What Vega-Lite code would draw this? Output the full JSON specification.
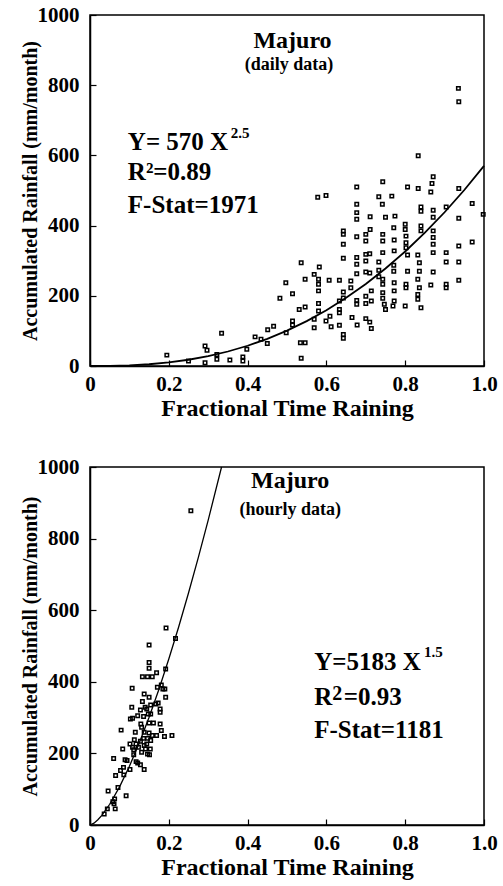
{
  "$schema": "https://vega.github.io/schema/vega-lite/v6.json",
  "autosize": {"type": "pad"},
  "padding": {"left": 19, "top": 3, "right": 0, "bottom": 0},
  "background": "white",
  "config": {
    "font": "Liberation Serif",
    "view": {"stroke": "black", "strokeWidth": 1.5},
    "axis": {
      "grid": false,
      "domainColor": "black",
      "domainWidth": 1.5,
      "tickColor": "black",
      "tickSize": -6,
      "tickWidth": 1.2,
      "labelFont": "Liberation Serif",
      "labelFontWeight": "bold",
      "labelFontSize": 21,
      "labelColor": "black",
      "labelFlush": false,
      "labelOverlap": false,
      "titleFont": "Liberation Serif",
      "titleFontWeight": "bold",
      "titleColor": "black"
    },
    "axisX": {"labelPadding": 13, "titleFontSize": 24, "titlePadding": 2},
    "axisY": {"labelPadding": 17, "titleFontSize": 20, "titlePadding": -3}
  },
  "datasets": {
    "daily": [
      {"frac":0.195,"rain":31},{"frac":0.250,"rain":14},{"frac":0.292,"rain":57},{"frac":0.297,"rain":45},{"frac":0.292,"rain":9},
      {"frac":0.322,"rain":33},{"frac":0.322,"rain":19},{"frac":0.334,"rain":93},{"frac":0.355,"rain":17},{"frac":0.388,"rain":26},
      {"frac":0.388,"rain":14},{"frac":0.398,"rain":48},{"frac":0.419,"rain":83},{"frac":0.434,"rain":76},{"frac":0.451,"rain":103},
      {"frac":0.450,"rain":64},{"frac":0.466,"rain":113},{"frac":0.482,"rain":193},
      {"frac":0.935,"rain":791},{"frac":0.936,"rain":753},{"frac":0.833,"rain":599},{"frac":0.871,"rain":539},{"frac":0.868,"rain":520},
      {"frac":0.743,"rain":525},{"frac":0.677,"rain":510},{"frac":0.806,"rain":510},{"frac":0.833,"rain":506},{"frac":0.865,"rain":496},
      {"frac":0.936,"rain":506},{"frac":0.578,"rain":481},{"frac":0.599,"rain":486},{"frac":0.733,"rain":482},{"frac":0.766,"rain":484},
      {"frac":0.677,"rain":461},{"frac":0.742,"rain":461},{"frac":0.677,"rain":437},{"frac":0.677,"rain":418},{"frac":0.711,"rain":425},
      {"frac":0.750,"rain":424},{"frac":0.774,"rain":427},{"frac":0.840,"rain":453},{"frac":0.840,"rain":441},{"frac":0.871,"rain":444},
      {"frac":0.904,"rain":453},{"frac":0.871,"rain":424},{"frac":0.970,"rain":463},{"frac":0.936,"rain":421},{"frac":0.998,"rain":432},
      {"frac":0.800,"rain":404},{"frac":0.800,"rain":389},{"frac":0.840,"rain":399},{"frac":0.840,"rain":385},{"frac":0.871,"rain":385},
      {"frac":0.871,"rain":366},{"frac":0.871,"rain":347},{"frac":0.871,"rain":323},{"frac":0.802,"rain":370},{"frac":0.802,"rain":351},
      {"frac":0.802,"rain":337},{"frac":0.771,"rain":394},{"frac":0.743,"rain":375},{"frac":0.743,"rain":356},{"frac":0.772,"rain":359},
      {"frac":0.772,"rain":328},{"frac":0.743,"rain":323},{"frac":0.711,"rain":389},{"frac":0.700,"rain":375},{"frac":0.700,"rain":356},
      {"frac":0.677,"rain":368},{"frac":0.643,"rain":385},{"frac":0.643,"rain":375},{"frac":0.643,"rain":347},{"frac":0.643,"rain":307},
      {"frac":0.710,"rain":320},{"frac":0.700,"rain":318},{"frac":0.677,"rain":309},{"frac":0.700,"rain":299},{"frac":0.677,"rain":290},
      {"frac":0.700,"rain":268},{"frac":0.710,"rain":265},{"frac":0.677,"rain":263},{"frac":0.733,"rain":296},{"frac":0.733,"rain":273},
      {"frac":0.733,"rain":254},{"frac":0.743,"rain":247},{"frac":0.743,"rain":233},{"frac":0.771,"rain":287},{"frac":0.771,"rain":270},
      {"frac":0.772,"rain":237},{"frac":0.772,"rain":214},{"frac":0.806,"rain":316},{"frac":0.806,"rain":270},{"frac":0.802,"rain":233},
      {"frac":0.802,"rain":223},{"frac":0.832,"rain":316},{"frac":0.836,"rain":294},{"frac":0.836,"rain":270},{"frac":0.832,"rain":247},
      {"frac":0.836,"rain":223},{"frac":0.832,"rain":204},{"frac":0.832,"rain":190},{"frac":0.840,"rain":166},{"frac":0.865,"rain":231},
      {"frac":0.871,"rain":268},{"frac":0.904,"rain":323},{"frac":0.904,"rain":296},{"frac":0.904,"rain":233},{"frac":0.904,"rain":223},
      {"frac":0.936,"rain":342},{"frac":0.936,"rain":296},{"frac":0.936,"rain":244},{"frac":0.970,"rain":353},{"frac":0.800,"rain":171},
      {"frac":0.772,"rain":185},{"frac":0.743,"rain":209},{"frac":0.743,"rain":193},{"frac":0.747,"rain":176},{"frac":0.750,"rain":161},
      {"frac":0.769,"rain":171},{"frac":0.714,"rain":214},{"frac":0.700,"rain":199},{"frac":0.714,"rain":185},{"frac":0.700,"rain":178},
      {"frac":0.677,"rain":187},{"frac":0.677,"rain":176},{"frac":0.662,"rain":242},{"frac":0.662,"rain":223},{"frac":0.665,"rain":138},
      {"frac":0.700,"rain":135},{"frac":0.714,"rain":107},{"frac":0.678,"rain":117},{"frac":0.710,"rain":125},{"frac":0.633,"rain":244},
      {"frac":0.607,"rain":244},{"frac":0.633,"rain":185},{"frac":0.633,"rain":161},{"frac":0.633,"rain":152},{"frac":0.643,"rain":211},
      {"frac":0.643,"rain":194},{"frac":0.643,"rain":90},{"frac":0.643,"rain":79},{"frac":0.609,"rain":142},{"frac":0.612,"rain":112},
      {"frac":0.633,"rain":116},{"frac":0.599,"rain":128},{"frac":0.582,"rain":282},{"frac":0.580,"rain":247},{"frac":0.580,"rain":233},
      {"frac":0.580,"rain":214},{"frac":0.580,"rain":178},{"frac":0.580,"rain":157},{"frac":0.569,"rain":261},{"frac":0.569,"rain":133},
      {"frac":0.569,"rain":109},{"frac":0.546,"rain":247},{"frac":0.536,"rain":294},{"frac":0.531,"rain":161},{"frac":0.546,"rain":168},
      {"frac":0.514,"rain":128},{"frac":0.514,"rain":117},{"frac":0.514,"rain":206},{"frac":0.497,"rain":237},{"frac":0.534,"rain":66},
      {"frac":0.546,"rain":66},{"frac":0.536,"rain":22},{"frac":0.498,"rain":95}
    ],
    "dailyFit": [
      {"frac":0,"rain":0},{"frac":0.05,"rain":0.3},{"frac":0.1,"rain":1.8},{"frac":0.15,"rain":5.0},{"frac":0.2,"rain":10.2},
      {"frac":0.25,"rain":17.8},{"frac":0.3,"rain":28.1},{"frac":0.35,"rain":41.3},{"frac":0.4,"rain":57.7},{"frac":0.45,"rain":77.4},
      {"frac":0.5,"rain":100.8},{"frac":0.55,"rain":127.9},{"frac":0.6,"rain":159},{"frac":0.65,"rain":194.2},{"frac":0.7,"rain":233.7},
      {"frac":0.75,"rain":277.7},{"frac":0.8,"rain":326.3},{"frac":0.85,"rain":379.7},{"frac":0.9,"rain":438},{"frac":0.95,"rain":501.4},
      {"frac":1.0,"rain":570}
    ],
    "hourly": [
      {"frac":0.193,"rain":550},{"frac":0.217,"rain":521},{"frac":0.150,"rain":503},{"frac":0.150,"rain":454},{"frac":0.150,"rain":438},
      {"frac":0.133,"rain":414},{"frac":0.146,"rain":414},{"frac":0.158,"rain":414},{"frac":0.169,"rain":425},{"frac":0.192,"rain":436},
      {"frac":0.107,"rain":382},{"frac":0.171,"rain":385},{"frac":0.181,"rain":391},{"frac":0.185,"rain":380},{"frac":0.190,"rain":380},
      {"frac":0.192,"rain":357},{"frac":0.1375,"rain":366},{"frac":0.150,"rain":357},{"frac":0.133,"rain":345},{"frac":0.140,"rain":329},
      {"frac":0.154,"rain":335},{"frac":0.167,"rain":338},{"frac":0.173,"rain":341},{"frac":0.178,"rain":324},{"frac":0.178,"rain":315},
      {"frac":0.106,"rain":329},{"frac":0.128,"rain":321},{"frac":0.144,"rain":324},{"frac":0.148,"rain":310},{"frac":0.154,"rain":310},
      {"frac":0.1025,"rain":296},{"frac":0.108,"rain":298},{"frac":0.121,"rain":305},{"frac":0.136,"rain":303},{"frac":0.129,"rain":282},
      {"frac":0.131,"rain":273},{"frac":0.150,"rain":285},{"frac":0.161,"rain":285},{"frac":0.178,"rain":282},{"frac":0.181,"rain":264},
      {"frac":0.079,"rain":265},{"frac":0.115,"rain":259},{"frac":0.1375,"rain":259},{"frac":0.150,"rain":257},{"frac":0.158,"rain":250},
      {"frac":0.169,"rain":250},{"frac":0.189,"rain":247},{"frac":0.208,"rain":250},{"frac":0.136,"rain":242},{"frac":0.146,"rain":242},
      {"frac":0.154,"rain":236},{"frac":0.1125,"rain":238},{"frac":0.128,"rain":234},{"frac":0.1015,"rain":226},{"frac":0.117,"rain":226},
      {"frac":0.144,"rain":226},{"frac":0.108,"rain":217},{"frac":0.123,"rain":217},{"frac":0.1375,"rain":222},{"frac":0.141,"rain":212},
      {"frac":0.153,"rain":212},{"frac":0.083,"rain":212},{"frac":0.111,"rain":210},{"frac":0.131,"rain":203},{"frac":0.146,"rain":198},
      {"frac":0.151,"rain":196},{"frac":0.111,"rain":196},{"frac":0.060,"rain":186},{"frac":0.089,"rain":182},{"frac":0.117,"rain":177},
      {"frac":0.121,"rain":173},{"frac":0.128,"rain":168},{"frac":0.1375,"rain":155},{"frac":0.1015,"rain":155},{"frac":0.085,"rain":161},
      {"frac":0.0775,"rain":152},{"frac":0.0858,"rain":140},{"frac":0.065,"rain":138},{"frac":0.094,"rain":180},{"frac":0.046,"rain":95},
      {"frac":0.071,"rain":105},{"frac":0.0917,"rain":82},{"frac":0.0625,"rain":73},{"frac":0.061,"rain":59},{"frac":0.064,"rain":45},
      {"frac":0.044,"rain":45},{"frac":0.036,"rain":31},{"frac":0.058,"rain":65},{"frac":0.256,"rain":878}
    ],
    "hourlyFit": [
      {"frac":0,"rain":0},{"frac":0.01,"rain":5.2},{"frac":0.02,"rain":14.7},{"frac":0.03,"rain":26.9},{"frac":0.05,"rain":57.9},
      {"frac":0.075,"rain":106.5},{"frac":0.1,"rain":163.9},{"frac":0.125,"rain":229},{"frac":0.15,"rain":301.1},{"frac":0.175,"rain":379.4},
      {"frac":0.2,"rain":463.6},{"frac":0.225,"rain":553.2},{"frac":0.25,"rain":647.9},{"frac":0.275,"rain":747.5},{"frac":0.3,"rain":851.7},
      {"frac":0.3339,"rain":1000}
    ],
    "dailyNotes": [
      {"frac":0.514,"rain":925,"text":"Majuro","kind":"title"},
      {"frac":0.505,"rain":857,"text":"(daily data)","kind":"sub"},
      {"frac":0.096,"rain":615,"text":"Y= 570 X","kind":"eq"},
      {"frac":0.357,"rain":650,"text":"2.5","kind":"sup"},
      {"frac":0.096,"rain":530,"text":"R²=0.89","kind":"eq"},
      {"frac":0.096,"rain":436,"text":"F-Stat=1971","kind":"eq"}
    ],
    "hourlyNotes": [
      {"frac":0.508,"rain":960,"text":"Majuro","kind":"title"},
      {"frac":0.508,"rain":880,"text":"(hourly data)","kind":"sub"},
      {"frac":0.569,"rain":433,"text":"Y=5183 X","kind":"eq"},
      {"frac":0.848,"rain":469,"text":"1.5","kind":"sup"},
      {"frac":0.569,"rain":335,"text":"R","kind":"eq"},
      {"frac":0.615,"rain":349,"text":"2","kind":"sup2"},
      {"frac":0.644,"rain":335,"text":"=0.93","kind":"eq"},
      {"frac":0.569,"rain":243,"text":"F-Stat=1181","kind":"eq"}
    ]
  },
  "spacing": 34,
  "vconcat": [
    {
      "width": 394,
      "height": 351,
      "encoding": {
        "x": {"field": "frac", "type": "quantitative", "scale": {"domain": [0, 1], "nice": false},
              "axis": {"title": "Fractional Time Raining", "values": [0, 0.2, 0.4, 0.6, 0.8, 1], "labelExpr": "datum.value == 0 ? '0' : format(datum.value, '.1f')"}},
        "y": {"field": "rain", "type": "quantitative", "scale": {"domain": [0, 1000], "nice": false},
              "axis": {"title": "Accumulated Rainfall (mm/month)", "values": [0, 200, 400, 600, 800, 1000], "format": "d"}}
      },
      "layer": [
        {"data": {"name": "daily"}, "mark": {"type": "point", "shape": "square", "size": 12, "filled": false, "color": "black", "strokeWidth": 1.5, "opacity": 1}},
        {"data": {"name": "dailyFit"}, "mark": {"type": "line", "color": "black", "strokeWidth": 1.8}},
        {"data": {"name": "dailyNotes"}, "transform": [{"filter": "datum.kind == 'title'"}],
         "mark": {"type": "text", "font": "Liberation Serif", "fontWeight": "bold", "fontSize": 24, "align": "center", "baseline": "middle", "color": "black"},
         "encoding": {"text": {"field": "text"}}},
        {"data": {"name": "dailyNotes"}, "transform": [{"filter": "datum.kind == 'sub'"}],
         "mark": {"type": "text", "font": "Liberation Serif", "fontWeight": "bold", "fontSize": 18, "align": "center", "baseline": "middle", "color": "black"},
         "encoding": {"text": {"field": "text"}}},
        {"data": {"name": "dailyNotes"}, "transform": [{"filter": "datum.kind == 'eq'"}],
         "mark": {"type": "text", "font": "Liberation Serif", "fontWeight": "bold", "fontSize": 25, "align": "left", "baseline": "alphabetic", "color": "black"},
         "encoding": {"text": {"field": "text"}}},
        {"data": {"name": "dailyNotes"}, "transform": [{"filter": "datum.kind == 'sup'"}],
         "mark": {"type": "text", "font": "Liberation Serif", "fontWeight": "bold", "fontSize": 15, "align": "left", "baseline": "alphabetic", "color": "black"},
         "encoding": {"text": {"field": "text"}}}
      ]
    },
    {
      "width": 394,
      "height": 358,
      "encoding": {
        "x": {"field": "frac", "type": "quantitative", "scale": {"domain": [0, 1], "nice": false},
              "axis": {"title": "Fractional Time Raining", "values": [0, 0.2, 0.4, 0.6, 0.8, 1], "labelExpr": "datum.value == 0 ? '0' : format(datum.value, '.1f')"}},
        "y": {"field": "rain", "type": "quantitative", "scale": {"domain": [0, 1000], "nice": false},
              "axis": {"title": "Accumulated Rainfall (mm/month)", "values": [0, 200, 400, 600, 800, 1000], "format": "d"}}
      },
      "layer": [
        {"data": {"name": "hourly"}, "mark": {"type": "point", "shape": "square", "size": 12, "filled": false, "color": "black", "strokeWidth": 1.5, "opacity": 1}},
        {"data": {"name": "hourlyFit"}, "mark": {"type": "line", "color": "black", "strokeWidth": 1.3}},
        {"data": {"name": "hourlyNotes"}, "transform": [{"filter": "datum.kind == 'title'"}],
         "mark": {"type": "text", "font": "Liberation Serif", "fontWeight": "bold", "fontSize": 24, "align": "center", "baseline": "middle", "color": "black"},
         "encoding": {"text": {"field": "text"}}},
        {"data": {"name": "hourlyNotes"}, "transform": [{"filter": "datum.kind == 'sub'"}],
         "mark": {"type": "text", "font": "Liberation Serif", "fontWeight": "bold", "fontSize": 18, "align": "center", "baseline": "middle", "color": "black"},
         "encoding": {"text": {"field": "text"}}},
        {"data": {"name": "hourlyNotes"}, "transform": [{"filter": "datum.kind == 'eq'"}],
         "mark": {"type": "text", "font": "Liberation Serif", "fontWeight": "bold", "fontSize": 25, "align": "left", "baseline": "alphabetic", "color": "black"},
         "encoding": {"text": {"field": "text"}}},
        {"data": {"name": "hourlyNotes"}, "transform": [{"filter": "datum.kind == 'sup'"}],
         "mark": {"type": "text", "font": "Liberation Serif", "fontWeight": "bold", "fontSize": 15, "align": "left", "baseline": "alphabetic", "color": "black"},
         "encoding": {"text": {"field": "text"}}},
        {"data": {"name": "hourlyNotes"}, "transform": [{"filter": "datum.kind == 'sup2'"}],
         "mark": {"type": "text", "font": "Liberation Serif", "fontWeight": "bold", "fontSize": 20, "align": "left", "baseline": "alphabetic", "color": "black"},
         "encoding": {"text": {"field": "text"}}}
      ]
    }
  ]
}
